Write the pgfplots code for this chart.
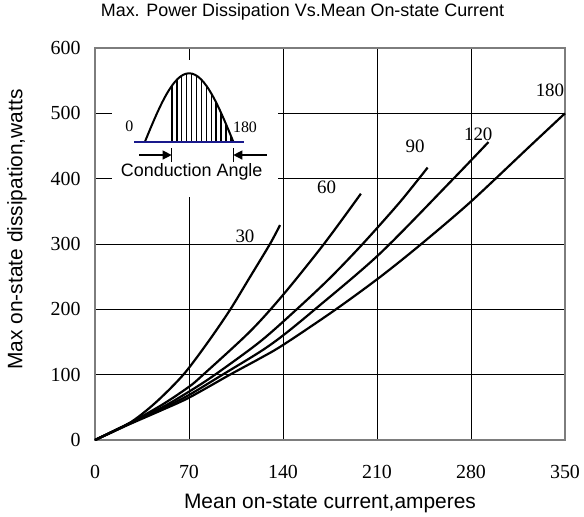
\documentclass[border=0pt]{standalone}
\usepackage{fontspec}
\setmainfont{Liberation Serif}
\setsansfont{Liberation Sans}
\usepackage{pgfplots}
\pgfplotsset{compat=1.18}
\usetikzlibrary{arrows.meta}

\definecolor{framegray}{RGB}{125,125,125}
\definecolor{insetblue}{RGB}{25,25,140}

\begin{document}
\begin{tikzpicture}
\begin{axis}[
	scale only axis,
	width=470bp, height=392bp,
	xmin=0, xmax=350,
	ymin=0, ymax=600,
	xtick={0,70,...,350},
	ytick={0,100,...,600},
	grid=major,
	grid style={black, line width=0.8bp},
	major tick length=0pt,
	axis line style={framegray, line width=2bp},
	/pgf/number format/assume math mode=true,
	tick label style={font=\rmfamily\fontsize{20}{20}\selectfont},
	xticklabel style={anchor=center, yshift=-31.5bp},
	yticklabel style={anchor=east, xshift=-11bp},
	xlabel={Mean on-state current,amperes},
	ylabel={Max on-state dissipation,watts},
	every axis x label/.style={at={(axis description cs:0.5,-0.1735)}, anchor=base,
		font=\sffamily\fontsize{21}{21}\selectfont},
	every axis y label/.style={at={(axis description cs:-0.166,0.537)}, rotate=90, anchor=center,
		font=\sffamily\fontsize{21}{21}\selectfont},
	title={Max. Power Dissipation Vs.Mean On-state Current},
	title style={at={(axis description cs:0.4415,1.0645)}, anchor=base,
		font=\sffamily\fontsize{18}{18}\selectfont},
	clip=false,
]

% inset: conduction angle sketch, on a white patch over the grid
\fill[white] (axis cs:12.7,372) rectangle (axis cs:136.3,582);
\pgfplotsinvokeforeach{55,65,...,175}{
	\draw[line width=1.3bp] (axis cs:{37.2+#1*0.36556},456.6) -- (axis cs:{37.2+#1*0.36556},{456.6+104.7*sin(#1)});
}
\draw[line width=2bp] (axis cs:37.2,456.6) sin (axis cs:70.1,561.3) cos (axis cs:103,456.6);
\draw[insetblue, line width=2bp] (axis cs:29.3,456.6) -- (axis cs:111.2,456.6);
\draw[line width=1.2bp, -{Triangle[length=9bp,width=9bp]}] (axis cs:33,436.2) -- (axis cs:57.1,436.2);
\draw[line width=1.5bp] (axis cs:57.1,446.5) -- (axis cs:57.1,426);
\draw[line width=1.2bp, -{Triangle[length=9bp,width=9bp]}] (axis cs:127.8,436.2) -- (axis cs:103,436.2);
\draw[line width=1.5bp] (axis cs:103,446.5) -- (axis cs:103,426);
\node[font=\fontsize{16}{16}\selectfont] at (axis cs:25.5,479.6) {0};
\node[font=\fontsize{16}{16}\selectfont] at (axis cs:111.7,478.6) {180};
\node[font=\sffamily\fontsize{18}{18}\selectfont] at (axis cs:72,410.7) {Conduction Angle};

% 30 degrees
\addplot[black, line width=2.2bp, smooth] coordinates {
	(0,0) (25,25) (45,57) (65.8,100) (84,149.5) (100.5,199) (115,248) (130.3,300) (137.8,329)
};
% 60 degrees
\addplot[black, line width=2.2bp, smooth] coordinates {
	(0,0) (25,25) (50,54) (70,81.5) (80.6,100) (115.4,166) (140,222) (170.5,300) (198,377)
};
% 90 degrees
\addplot[black, line width=2.2bp, smooth] coordinates {
	(0,0) (25,25) (50,50) (70,74) (89.4,100) (122.9,150.5) (150.2,200) (175,248) (199.3,300) (227,364) (247.7,417)
};
% 120 degrees
\addplot[black, line width=2.2bp, smooth] coordinates {
	(0,0) (25,24.5) (50,48) (70,68.9) (95,100) (122.9,135) (140,160) (163.8,200) (212,285) (266,398) (293,456)
};
% 180 degrees
\addplot[black, line width=2.2bp, smooth] coordinates {
	(0,0) (25,23.5) (50,46) (70,64.8) (100.5,100) (122.9,125) (140,145.4) (178,198) (212,249) (243,300) (280,365) (324,450) (350,500)
};

\node[font=\fontsize{19}{19}\selectfont] at (axis cs:111.7,312) {30};
\node[font=\fontsize{19}{19}\selectfont] at (axis cs:172.5,386.8) {60};
\node[font=\fontsize{19}{19}\selectfont] at (axis cs:238.3,450) {90};
\node[font=\fontsize{19}{19}\selectfont] at (axis cs:285.4,468) {120};
\node[font=\fontsize{19}{19}\selectfont] at (axis cs:338.8,534.7) {180};

\end{axis}
\pgfresetboundingbox
\path[use as bounding box] (-95bp,-77bp) rectangle (489bp,440bp);
\end{tikzpicture}
\end{document}
